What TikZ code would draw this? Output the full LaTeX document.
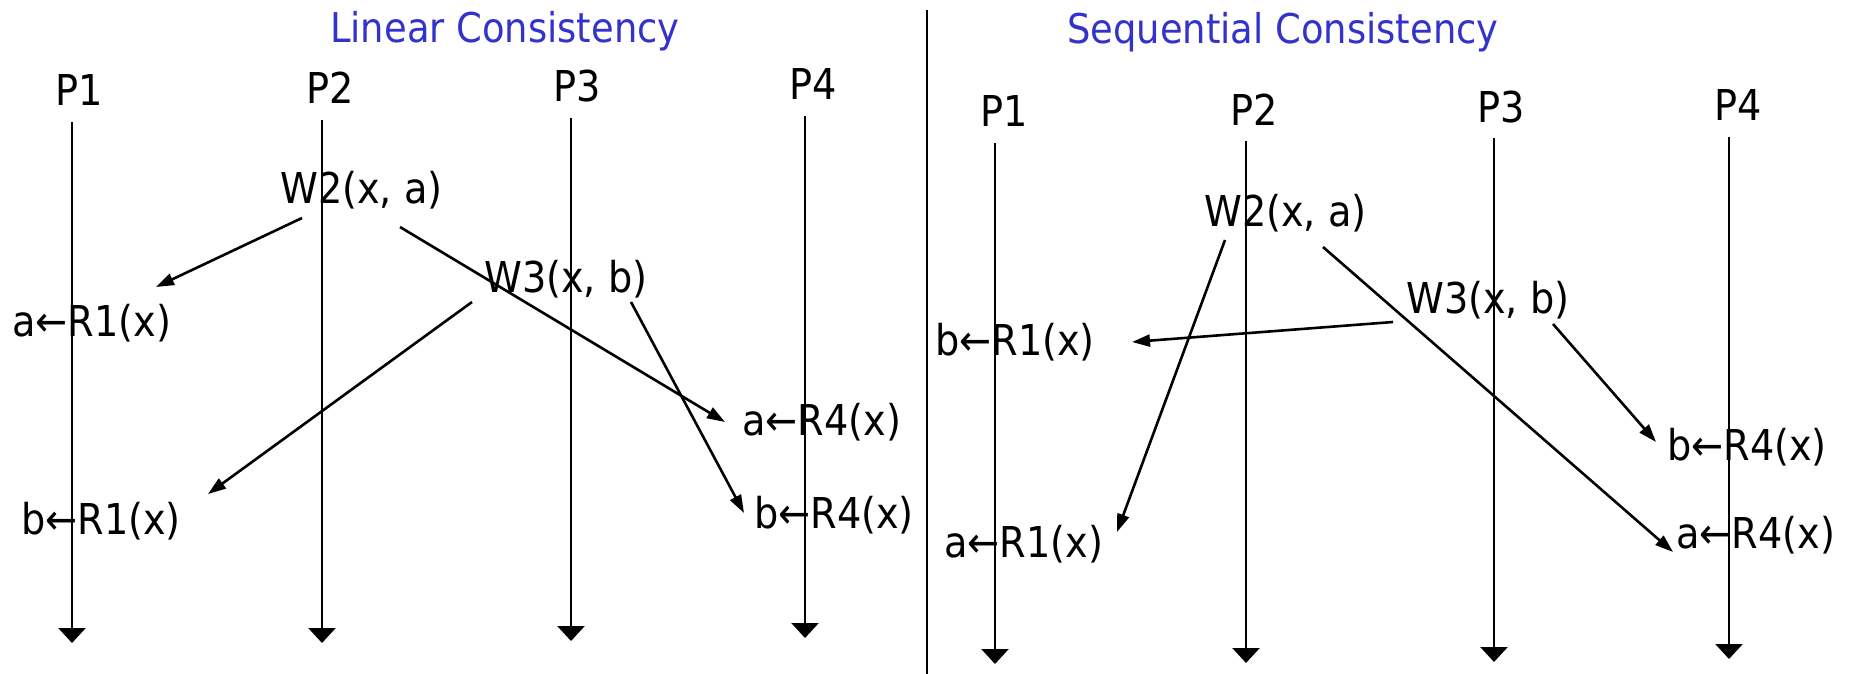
\documentclass[tikz,border=0pt]{standalone}
\usepackage{fontspec}
\setmainfont{DejaVu Sans Condensed}
\usetikzlibrary{arrows.meta}
\definecolor{titleblue}{RGB}{51,51,204}
\newcommand{\la}{←}
\begin{document}
\begin{tikzpicture}[x=1pt,y=-1pt,
  lbl/.style={inner sep=0pt, anchor=base west, font=\fontsize{42.5}{48}\selectfont},
  ttl/.style={inner sep=0pt, anchor=base west, font=\fontsize{41}{48}\selectfont, text=titleblue},
  tline/.style={line width=2.6pt, -{Triangle[width=27pt,length=15pt]}},
  msg/.style={line width=2.6pt, -{Triangle[width=12pt,length=18pt]}},
  sep/.style={line width=2.2pt}]
\useasboundingbox (0,0) rectangle (1854,674);
% ---------- left panel ----------
\node[ttl] (tL) at (330,43) {Linear Consistency};
\node[lbl] (LP1) at (55,106) {P1};
\node[lbl] (LP2) at (306,104) {P2};
\node[lbl] (LP3) at (553,102) {P3};
\node[lbl] (LP4) at (789,100) {P4};
\coordinate (LP1t) at (72,122);  \coordinate (LP1b) at (72,643);
\coordinate (LP2t) at (322,120); \coordinate (LP2b) at (322,643);
\coordinate (LP3t) at (571,118); \coordinate (LP3b) at (571,641);
\coordinate (LP4t) at (805,116); \coordinate (LP4b) at (805,638);
\draw[tline] (LP1t) -- (LP1b);
\draw[tline] (LP2t) -- (LP2b);
\draw[tline] (LP3t) -- (LP3b);
\draw[tline] (LP4t) -- (LP4b);
\node[lbl] (LW2) at (280,203) {W2(x, a)};
\node[lbl] (LW3) at (484,292) {W3(x, b)};
\node[lbl] (LaR1) at (12,336) {a\la R1(x)};
\node[lbl] (LbR1) at (21,534) {b\la R1(x)};
\node[lbl] (LaR4) at (742,435) {a\la R4(x)};
\node[lbl] (LbR4) at (754,528) {b\la R4(x)};
\coordinate (Lm1s) at (302,218); \coordinate (Lm1e) at (156,287);
\coordinate (Lm2s) at (400,227); \coordinate (Lm2e) at (725,422);
\coordinate (Lm3s) at (472,302); \coordinate (Lm3e) at (208,494);
\coordinate (Lm4s) at (631,302); \coordinate (Lm4e) at (744,513);
\draw[msg] (Lm1s) -- (Lm1e);
\draw[msg] (Lm2s) -- (Lm2e);
\draw[msg] (Lm3s) -- (Lm3e);
\draw[msg] (Lm4s) -- (Lm4e);
% separator
\coordinate (sepT) at (927,10); \coordinate (sepB) at (927,674);
\draw[sep] (sepT) -- (sepB);
% ---------- right panel ----------
\node[ttl] (tR) at (1067,44) {Sequential Consistency};
\node[lbl] (RP1) at (980,127) {P1};
\node[lbl] (RP2) at (1230,125) {P2};
\node[lbl] (RP3) at (1477,123) {P3};
\node[lbl] (RP4) at (1714,121) {P4};
\coordinate (RP1t) at (995,143);  \coordinate (RP1b) at (995,664);
\coordinate (RP2t) at (1246,141); \coordinate (RP2b) at (1246,663);
\coordinate (RP3t) at (1494,138); \coordinate (RP3b) at (1494,662);
\coordinate (RP4t) at (1729,137); \coordinate (RP4b) at (1729,659);
\draw[tline] (RP1t) -- (RP1b);
\draw[tline] (RP2t) -- (RP2b);
\draw[tline] (RP3t) -- (RP3b);
\draw[tline] (RP4t) -- (RP4b);
\node[lbl] (RW2) at (1204,226) {W2(x, a)};
\node[lbl] (RW3) at (1406,313) {W3(x, b)};
\node[lbl] (RbR1) at (935,355) {b\la R1(x)};
\node[lbl] (RaR1) at (944,557) {a\la R1(x)};
\node[lbl] (RbR4) at (1667,460) {b\la R4(x)};
\node[lbl] (RaR4) at (1676,548) {a\la R4(x)};
\coordinate (Rm1s) at (1225,240); \coordinate (Rm1e) at (1117,532);
\coordinate (Rm2s) at (1323,247); \coordinate (Rm2e) at (1673,552);
\coordinate (Rm3s) at (1393,322); \coordinate (Rm3e) at (1132,342);
\coordinate (Rm4s) at (1553,324); \coordinate (Rm4e) at (1656,442);
\draw[msg] (Rm1s) -- (Rm1e);
\draw[msg] (Rm2s) -- (Rm2e);
\draw[msg] (Rm3s) -- (Rm3e);
\draw[msg] (Rm4s) -- (Rm4e);
\end{tikzpicture}
\end{document}
